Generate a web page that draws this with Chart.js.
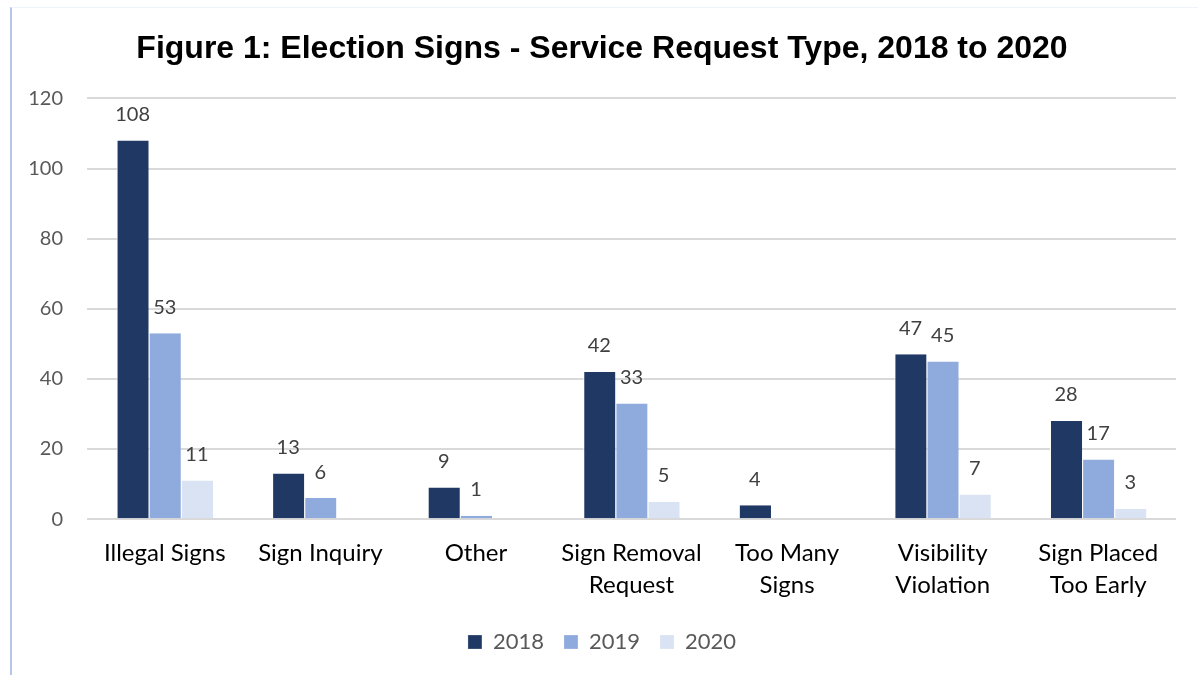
<!DOCTYPE html>
<html>
<head>
<meta charset="utf-8">
<script src="https://cdn.jsdelivr.net/npm/chart.js@4/dist/chart.umd.min.js"></script>
<style>
    html, body { margin: 0; padding: 0; background: #fff; }
    #wrap { position: relative; width: 1198px; height: 675px; }
    #frame { position: absolute; left: 10px; top: 7px; right: 0; bottom: 0;
             border-left: 2px solid #b4c7e7; border-top: 1px solid #eef2fa; }
    canvas { position: absolute; left: 0; top: 0; }
</style>
</head>
<body>
<div id="wrap">
    <div id="frame"></div>
    <canvas id="chart" width="1198" height="675"></canvas>
</div>
<script>
const categories = ['Illegal Signs', 'Sign Inquiry', 'Other', ['Sign Removal', 'Request'],
    ['Too Many', 'Signs'], ['Visibility', 'Violation'], ['Sign Placed', 'Too Early']];
const years = ['2018', '2019', '2020'];
const values2018 = [108, 13, 9, 42, 4, 47, 28];
const values2019 = [53, 6, 1, 33, null, 45, 17];
const values2020 = [11, null, null, 5, null, 7, 3];
const colors = ['#203864', '#8faadc', '#dae3f3'];
const yTicks = [0, 20, 40, 60, 80, 100, 120];

const bodyFont = 'Lato, Calibri, "Noto Sans", sans-serif';

// Draw value labels above each bar
const valueLabels = {
    id: 'valueLabels',
    afterDatasetsDraw(chart) {
        const ctx = chart.ctx;
        ctx.save();
        ctx.font = `20px ${bodyFont}`;
        ctx.fillStyle = '#404040';
        ctx.textAlign = 'center';
        ctx.textBaseline = 'middle';
        chart.data.datasets.forEach((ds, i) => {
            const meta = chart.getDatasetMeta(i);
            meta.data.forEach((bar, j) => {
                const v = ds.data[j];
                if (v === null || v === undefined) return;
                ctx.fillText(String(v), bar.x, bar.y - 26);
            });
        });
        ctx.restore();
    }
};

new Chart(document.getElementById('chart').getContext('2d'), {
    type: 'bar',
    data: {
        labels: categories,
        datasets: [
            {label: years[0], data: values2018, backgroundColor: colors[0]},
            {label: years[1], data: values2019, backgroundColor: colors[1]},
            {label: years[2], data: values2020, backgroundColor: colors[2]}
        ].map(d => Object.assign(d, {borderColor: '#ffffff', borderWidth: {left: 1, right: 0, top: 0, bottom: 0},
            categoryPercentage: 0.62, barPercentage: 1}))
    },
    options: {
        responsive: false,
        animation: false,
        layout: {padding: {left: 28, right: 22, top: 0, bottom: 12}},
        plugins: {
            title: {
                display: true,
                text: 'Figure 1: Election Signs - Service Request Type, 2018 to 2020',
                font: {family: '"Liberation Sans", Arial, sans-serif', size: 32, weight: 'bold'},
                color: '#000000',
                padding: {top: 30, bottom: 30}
            },
            legend: {
                position: 'bottom',
                labels: {
                    font: {family: bodyFont, size: 22},
                    color: '#595959',
                    boxWidth: 14,
                    boxHeight: 14,
                    padding: 20
                }
            },
            tooltip: {enabled: false}
        },
        scales: {
            x: {
                grid: {display: false},
                border: {display: false},
                ticks: {font: {family: bodyFont, size: 24, lineHeight: 1.33}, color: '#000000', padding: 10, maxRotation: 0}
            },
            y: {
                min: 0,
                max: 120,
                afterFit: (axis) => { axis.width = 59; },
                afterBuildTicks: (axis) => { axis.ticks = yTicks.map(v => ({value: v})); },
                grid: {color: '#d9d9d9', lineWidth: 2, drawTicks: false},
                border: {display: false},
                ticks: {font: {family: bodyFont, size: 20}, color: '#595959', padding: 24}
            }
        }
    },
    plugins: [valueLabels]
});
</script>
</body>
</html>
